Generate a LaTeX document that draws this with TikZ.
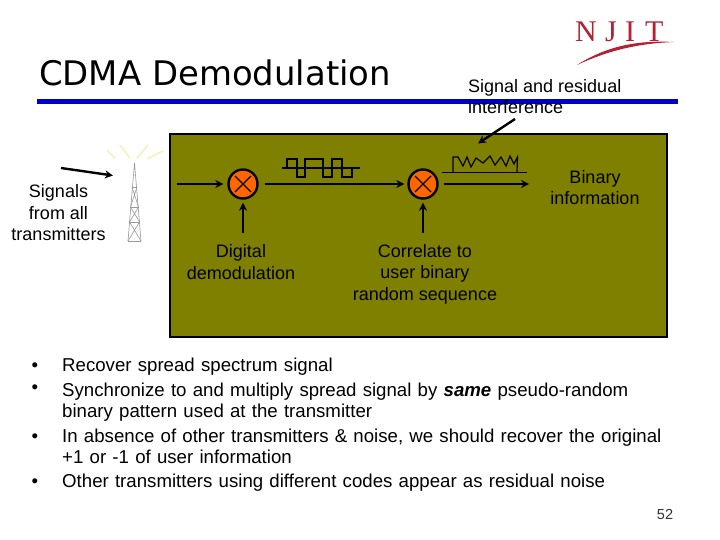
\documentclass[tikz,border=0pt]{standalone}
\usepackage{fontspec}
\setmainfont{Liberation Sans}
\newfontfamily\titlefont{DejaVu Sans}
\newfontfamily\logofont{Liberation Serif}
\usetikzlibrary{arrows.meta}
\definecolor{olivebox}{RGB}{128,128,0}
\definecolor{barblue}{RGB}{0,0,204}
\definecolor{mixorange}{RGB}{255,102,0}
\definecolor{njit}{RGB}{178,34,52}
\definecolor{raygold}{RGB}{245,240,190}
\tikzset{
 lbl/.style={font=\fontsize{18}{21.5}\selectfont,align=center,inner sep=0pt,text=black},
 bul/.style={font=\fontsize{18.65}{20.5}\selectfont,align=left,anchor=north west,inner sep=0pt,text width=640pt,text=black},
 dot/.style={font=\fontsize{18.65}{20.5}\selectfont,anchor=base,inner sep=0pt,text=black},
 conn/.style={line width=2.4pt,-{Stealth[length=8pt,width=8pt]}},
 mixer/.style={circle,draw=black,line width=2.4pt,fill=mixorange,minimum size=29pt,inner sep=0pt},
 wave/.style={line width=1.2pt,black,line join=miter},
 tower/.style={line width=0.6pt,black!40},
 ray/.style={line width=1.6pt,raygold},
 logol/.style={anchor=base west,inner sep=0pt,font=\logofont\fontsize{30}{30}\selectfont,text=njit},
}
\begin{document}
\begin{tikzpicture}[x=1pt,y=-1pt]
\useasboundingbox (0,0) rectangle (720,540);
\fill[white] (0,0) rectangle (720,540);
% title and rule
\node[anchor=west,inner sep=0pt,font=\titlefont\fontsize{33.9}{38}\selectfont,text=black] (title) at (39,73) {CDMA Demodulation};
\fill[barblue] (37,99) rectangle (678,104.5);
% logo
\node[logol] (ln) at (575,42) {N};
\node[logol] (lj) at (605,42) {J};
\node[logol] (li) at (625,42) {I};
\node[logol] (lt) at (645,42) {T};
\fill[njit] (577,65) .. controls (605,47) and (635,40) .. (674,42) .. controls (635,43.5) and (605,52) .. (577,65) -- cycle;
% box
\draw[line width=2pt,fill=olivebox] (170,134) rectangle (667,337);
% labels
\node[lbl,anchor=north west,align=left] (sig) at (468,79) {Signal and residual\\interference};
\node[lbl] (bin) at (595,187.5) {Binary\\information};
\node[lbl] (all) at (58.5,213) {Signals\\from all\\transmitters};
\node[lbl] (dem) at (241,262) {Digital\\demodulation};
\node[lbl] (cor) at (425,274) {Correlate to\\user binary\\random sequence};
% mixers
\node[mixer] (m1) at (243,184) {};
\node[mixer] (m2) at (423,184) {};
\foreach \m in {m1,m2}{
 \draw[line width=1.2pt] (\m.center)+(-8,-8) -- +(8,8);
 \draw[line width=1.2pt] (\m.center)+(-8,8) -- +(8,-8);
}
% connectors
\coordinate (in1) at (177,184);
\coordinate (out2) at (529,184);
\coordinate (up1) at (243,233);
\coordinate (up2) at (423,233);
\coordinate (s1) at (61,168);
\coordinate (s2) at (113,175.5);
\coordinate (i1) at (515,119);
\coordinate (i2) at (478,143.5);
\draw[conn,shorten >=4pt] (in1) -- (m1);
\draw[conn,shorten <=6pt,shorten >=3pt] (m1) -- (m2);
\draw[conn,shorten <=5pt] (m2) -- (out2);
\draw[conn,shorten >=3pt] (up1) -- (m1);
\draw[conn,shorten >=3pt] (up2) -- (m2);
\draw[conn] (s1) -- (s2);
\draw[conn] (i1) -- (i2);
% spread waveform
\draw[line width=1.5pt] (282,168) -- (360,168);
\draw[wave] (287,168) -- (287,159) -- (297,159) -- (297,177) -- (305,177) -- (305,159) -- (323,159) -- (323,177) -- (332,177) -- (332,159) -- (342,159) -- (342,177) -- (352,177) -- (352,168);
% residual waveform
\draw[line width=1.5pt] (442,172.5) -- (527,172.5);
\draw[wave] (453,172) -- (453,157) -- (458,157) -- (463,166) -- (467,157) -- (471,167) -- (476,158) -- (483,163) -- (490,156) -- (495,165) -- (501,157) -- (506,166) -- (510,156) -- (514,164) -- (517.5,157) -- (517,172);
% tower
\draw[tower] (134.5,163) -- (128,241) (134.5,163) -- (141,241);
\draw[tower] (128,241) -- (141,241) (130.5,207) -- (138.5,207) (132,187) -- (137,187) (129.5,222) -- (139.5,222);
\draw[tower] (130.5,207) -- (139.5,222) (138.5,207) -- (129.5,222) (128,241) -- (139.5,222) (141,241) -- (129.5,222);
\draw[tower] (132,187) -- (138.5,207) (137,187) -- (130.5,207);
\draw[ray] (115,158) -- (107,150);
\draw[ray] (130,158) -- (120,145);
\draw[ray] (137,158) -- (148,145);
\draw[ray] (147,159) -- (163,151);
% bullets
\foreach \y in {371.5,393,442.5,487.5}{\node[dot] at (35,\y) {•};}
\node[bul] (b1) at (62,358) {Recover spread spectrum signal};
\node[bul] (b2) at (62,383) {Synchronize to and multiply spread signal by \textbf{\textit{same}} pseudo-random\\binary pattern used at the transmitter};
\node[bul] (b3) at (62,429) {In absence of other transmitters \& noise, we should recover the original\\+1 or -1 of user information};
\node[bul] (b4) at (62,474) {Other transmitters using different codes appear as residual noise};
\node[font=\fontsize{14.5}{16}\selectfont,inner sep=0pt,text=black!80] (pg) at (665,515) {52};
\end{tikzpicture}
\end{document}
